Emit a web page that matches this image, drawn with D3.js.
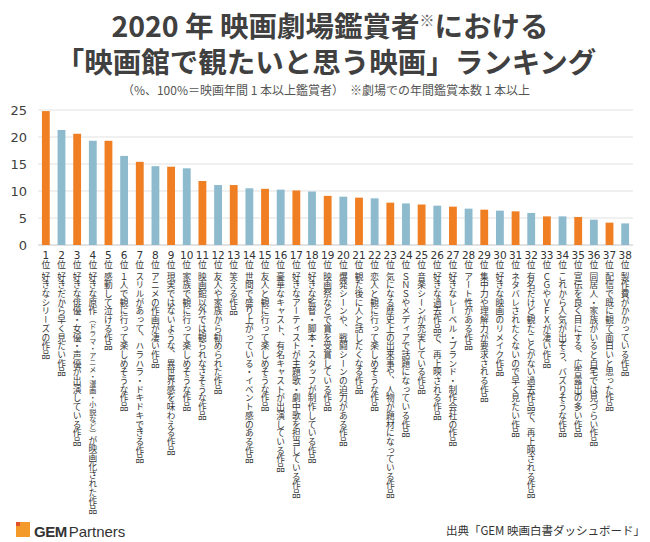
<!DOCTYPE html>
<html><head><meta charset="utf-8">
<script src="https://cdn.jsdelivr.net/npm/d3@7"></script>
<style>
html,body{margin:0;padding:0;background:#fff;}
svg{display:block;}
</style></head>
<body>
<svg id="c" width="650" height="542"></svg>
<script>
const ranks = d3.range(1, 39);
const values = [24.8,21.3,20.6,19.3,19.3,16.5,15.4,14.6,14.5,14.2,11.85,11.1,11.1,10.5,10.4,10.25,10.1,9.9,9.1,8.95,8.77,8.64,7.84,7.7,7.5,7.28,7.1,6.73,6.54,6.36,6.23,5.93,5.3,5.3,5.19,4.69,4.14,4.0];
const labels = [
"好きなシリーズの作品",
"好きだから早く見たい作品",
"好きな俳優・女優・声優が出演している作品",
"好きな原作（ドラマ・アニメ・漫画・小説など）が映画化された作品",
"感動して泣ける作品",
"１人で観に行って楽しめそうな作品",
"スリルがあって、ハラハラ・ドキドキできる作品",
"アニメの作画が凄い作品",
"現実ではないような、異世界感を味わえる作品",
"家族で観に行って楽しめそうな作品",
"映画館以外では観られなさそうな作品",
"友人や家族から勧められた作品",
"笑える作品",
"世間で盛り上がっている・イベント感のある作品",
"友人と観に行って楽しめそうな作品",
"豪華なキャスト、有名キャストが出演している作品",
"好きなアーティストが主題歌・劇中歌を担当している作品",
"好きな監督・脚本・スタッフが制作している作品",
"映画祭などで賞を受賞している作品",
"爆発シーンや、戦闘シーンの迫力がある作品",
"観た後に人と話したくなる作品",
"恋人と観に行って楽しめそうな作品",
"気になる歴史上の出来事や、人物が題材になっている作品",
"ＳＮＳやメディアで話題になっている作品",
"音楽シーンが充実している作品",
"好きな過去作品で、再上映される作品",
"好きなレーベル・ブランド・制作会社の作品",
"アート性がある作品",
"集中力や理解力が要求される作品",
"好きな映画のリメイク作品",
"ネタバレされたくないので早く見たい作品",
"有名だけど観たことがない過去作品で、再上映される作品",
"ＣＧやＶＦＸが凄い作品",
"これから人気が出そう、バズりそうな作品",
"宣伝を良く目にする、広告露出の多い作品",
"同居人・家族がいると自宅では見づらい作品",
"配信で既に観て面白いと思った作品",
"製作費がかかっている作品"
];
const yTicks = [0,5,10,15,20,25];
const titleLines = ["2020 年 映画劇場鑑賞者", "「映画館で観たいと思う映画」ランキング"];
const subtitle = "（%、100%＝映画年間 1 本以上鑑賞者）　※劇場での年間鑑賞本数 1 本以上";
const source = "出典「GEM 映画白書ダッシュボード」";

const ORANGE = "#f07f24", BLUE = "#8dbacd";
const JP = "'Noto Sans CJK JP','Noto Sans',sans-serif";
const svg = d3.select("#c");

const x = d3.scaleBand().domain(ranks).range([38, 633]).paddingInner(0.5).paddingOuter(0.25);
const y = d3.scaleLinear().domain([0, 25]).range([245, 110]);

// title
const t1 = svg.append("text").attr("x", 330).attr("y", 37).attr("text-anchor", "middle")
  .attr("font-family", JP).attr("font-weight", 700).attr("font-size", 28.5).attr("fill", "#404040");
t1.append("tspan").text(titleLines[0]);
t1.append("tspan").attr("font-size", 15).attr("font-weight", 400).attr("dy", -11).attr("fill", "#666").text("※");
t1.append("tspan").attr("dy", 11).text("における");
svg.append("text").attr("x", 326).attr("y", 73).attr("text-anchor", "middle")
  .attr("font-family", JP).attr("font-weight", 700).attr("font-size", 28.5).attr("fill", "#404040")
  .text(titleLines[1]);
svg.append("text").attr("x", 326).attr("y", 95).attr("text-anchor", "middle")
  .attr("font-family", JP).attr("font-size", 12).attr("fill", "#555").text(subtitle);

// grid
svg.append("g").selectAll("line").data(yTicks).join("line")
  .attr("x1", 38).attr("x2", 633).attr("y1", d => y(d)).attr("y2", d => y(d))
  .attr("stroke", d => d === 0 ? "#d9d9d9" : "#ebebeb").attr("stroke-width", 1.5);

// y axis
const yAxis = d3.axisLeft(y).tickValues(yTicks).tickSize(0).tickPadding(0);
const ga = svg.append("g").attr("transform", "translate(27,0)").call(yAxis);
ga.select(".domain").remove();
ga.selectAll("text").attr("font-family", "'DejaVu Sans',Verdana,sans-serif").attr("font-size", 13).attr("fill", "#404040");

// bars
svg.append("g").selectAll("rect").data(values).join("rect")
  .attr("x", (d, i) => x(ranks[i])).attr("width", x.bandwidth())
  .attr("y", d => y(d)).attr("height", d => y(0) - y(d))
  .attr("fill", (d, i) => i % 2 === 0 ? ORANGE : BLUE);

// labels
const lg = svg.append("g");
ranks.forEach((r, i) => {
  const cx = x(r) + x.bandwidth() / 2;
  lg.append("text").attr("x", cx).attr("y", 259).attr("text-anchor", "middle")
    .attr("font-family", "'DejaVu Sans',Verdana,sans-serif").attr("font-size", 10.5).attr("fill", "#333")
    .text(r);
  lg.append("text").attr("x", cx).attr("y", 260).attr("writing-mode", "vertical-rl")
    .attr("font-family", JP).attr("font-size", 8.8).attr("fill", "#333").text("位");
  const t = lg.append("text").attr("x", cx).attr("y", 272).attr("writing-mode", "vertical-rl")
    .attr("font-family", JP).attr("font-size", 8.7).attr("fill", "#333");
  const parts = labels[i].split(/(（[^）]*）)/);
  parts.forEach(p => {
    if (!p) return;
    const ts = t.append("tspan").text(p);
    if (p.startsWith("（")) ts.attr("font-size", 7.1);
  });
});

// footer
const lgo = svg.append("g");
lgo.append("rect").attr("x", 16).attr("y", 522).attr("width", 14).attr("height", 15).attr("fill", "#f39a2b");
lgo.append("rect").attr("x", 16).attr("y", 522).attr("width", 4).attr("height", 4).attr("fill", "#e2502a");
const gt = svg.append("text").attr("x", 34).attr("y", 536.5)
  .attr("font-family", "'Liberation Sans',Arial,sans-serif").attr("font-size", 15).attr("fill", "#333");
gt.append("tspan").attr("font-weight", 700).attr("letter-spacing", -0.5).text("GEM");
gt.append("tspan").attr("dx", 2).text("Partners");
svg.append("text").attr("x", 645).attr("y", 535).attr("text-anchor", "end")
  .attr("font-family", JP).attr("font-size", 11.5).attr("fill", "#333").text(source);
</script>
</body></html>
